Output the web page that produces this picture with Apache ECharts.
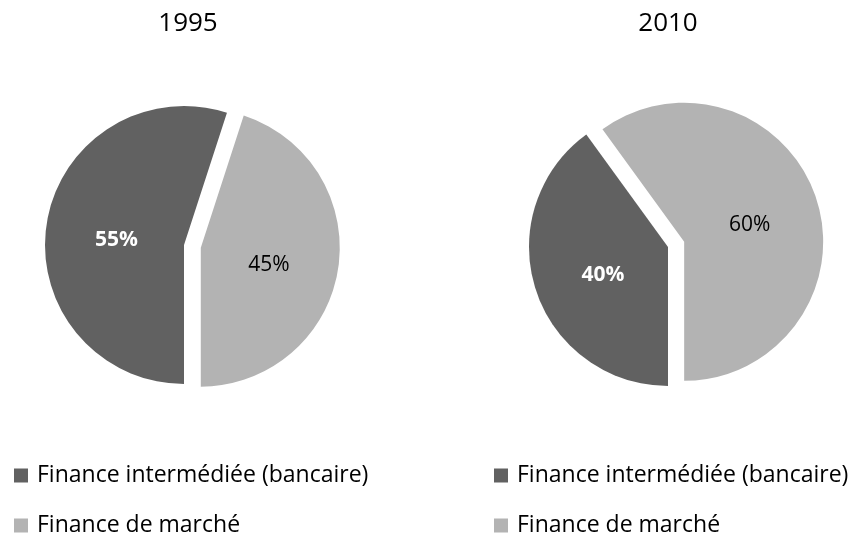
<!DOCTYPE html>
<html>
<head>
<meta charset="utf-8">
<script src="https://cdn.jsdelivr.net/npm/echarts@6/dist/echarts.min.js"></script>
<style>
html, body { margin: 0; padding: 0; background: #fff; }
#main { width: 857px; height: 536px; }
</style>
</head>
<body>
<div id="main"></div>
<script>
// données
const categories = ['Finance intermédiée (bancaire)', 'Finance de marché'];
const years = ['1995', '2010'];
const values1995 = [55, 45];
const values2010 = [40, 60];

const colors = ['#616161', '#b3b3b3'];
const font = 'Open Sans';

// construit les parts d'un camembert
function slices(values) {
  return values.map((v, i) => ({
    name: categories[i],
    value: v,
    selected: i === 1, // part "marché" détachée
    itemStyle: { color: colors[i] },
    select: { itemStyle: { color: colors[i] } },
    label: i === 0
      ? { color: '#fff', fontWeight: 'bold', padding: [0, 0, 0, 8] }
      : { color: '#000', fontWeight: 'normal', padding: [0, 7, 0, 0] },
  }));
}

function pie(name, values, center) {
  return {
    type: 'pie',
    name,
    center,
    radius: 139,
    startAngle: -90,
    clockwise: true,
    selectedMode: 'multiple',
    selectedOffset: 17,
    animation: false,
    emphasis: { disabled: true },
    label: {
      show: true,
      position: 'inside',
      formatter: '\n{c}%', // ligne vide pour descendre un peu l'étiquette
      lineHeight: 12,
      fontFamily: font,
      fontSize: 21,
    },
    labelLine: { show: false },
    data: slices(values),
  };
}

const legendBase = {
  orient: 'vertical',
  icon: 'rect',
  itemWidth: 14,
  itemHeight: 14,
  itemGap: 27,
  padding: 0,
  height: 120,
  selectedMode: false,
  textStyle: { fontFamily: font, fontSize: 23, color: '#000', padding: [0, 0, 0, 4] },
  data: categories,
};

const option = {
  backgroundColor: '#fff',
  animation: false,
  title: [
    { text: years[0], left: 183, top: 6, textAlign: 'center',
      textStyle: { fontFamily: font, fontSize: 26, fontWeight: 'normal', color: '#000' } },
    { text: years[1], left: 663, top: 6, textAlign: 'center',
      textStyle: { fontFamily: font, fontSize: 26, fontWeight: 'normal', color: '#000' } },
  ],
  legend: [
    { ...legendBase, left: 14, top: 464 },
    { ...legendBase, left: 494, top: 464 },
  ],
  series: [
    pie(years[0], values1995, [184, 245]),
    pie(years[1], values2010, [668, 247]),
  ],
};

const myChart = echarts.init(document.getElementById('main'), null, { renderer: 'canvas' });
myChart.setOption(option);
</script>
</body>
</html>
